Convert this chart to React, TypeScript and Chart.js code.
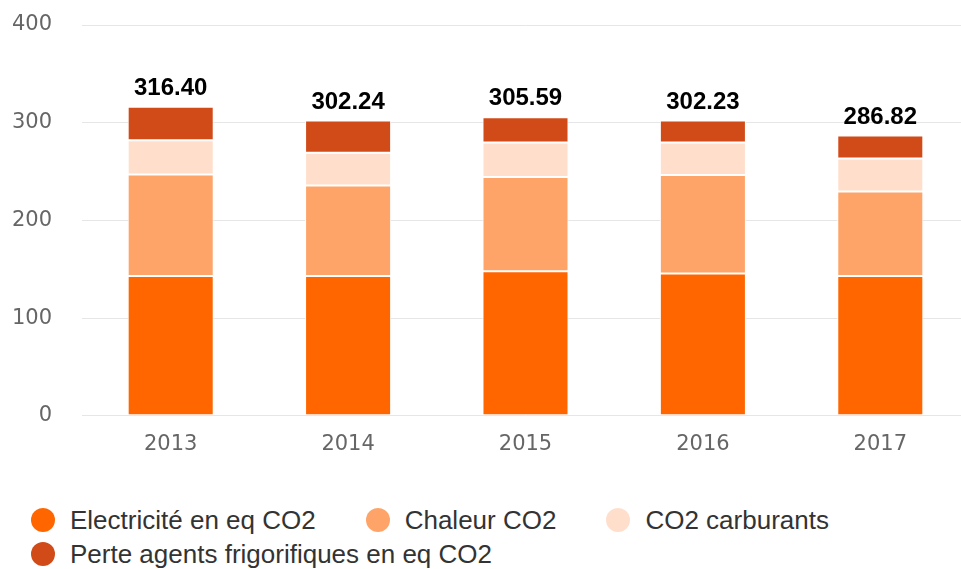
import React, { useEffect, useRef } from "react";
import { Chart, registerables } from "chart.js";

Chart.register(...registerables);

const categories = ["2013", "2014", "2015", "2016", "2017"];
const electricite = [143, 143, 148, 145.6, 143];
const chaleur = [104, 92.6, 96.3, 100.8, 86.7];
const carburants = [35, 33.7, 35.4, 33.3, 33.6];
const frigorifiques = [34.4, 32.94, 25.89, 22.53, 23.52];
const totals = ["316.40", "302.24", "305.59", "302.23", "286.82"];
const yTicks = [0, 100, 200, 300, 400];

const seriesNames = [
  "Electricité en eq CO2",
  "Chaleur CO2",
  "CO2 carburants",
  "Perte agents frigorifiques en eq CO2",
];
const seriesColors = ["#ff6600", "#ffa469", "#ffdfcc", "#d14b18"];
const seriesValues = [electricite, chaleur, carburants, frigorifiques];

const totalsPlugin = {
  id: "totalsPlugin",
  afterDatasetsDraw(chart: any) {
    const ctx = chart.ctx;
    const last = chart.getDatasetMeta(chart.data.datasets.length - 1);
    ctx.save();
    ctx.font = "bold 24px 'Liberation Sans', Arial, sans-serif";
    ctx.fillStyle = "#000000";
    ctx.textAlign = "center";
    ctx.textBaseline = "alphabetic";
    last.data.forEach((el: any, i: number) => {
      ctx.fillText(totals[i], el.x, el.y - 12);
    });
    ctx.restore();
  },
};

export default function App() {
  const canvasRef = useRef<HTMLCanvasElement | null>(null);

  useEffect(() => {
    document.documentElement.style.overflow = "hidden";
    document.body.style.overflow = "hidden";
    if (!canvasRef.current) return;
    const chart = new Chart(canvasRef.current, {
      type: "bar",
      data: {
        labels: categories,
        datasets: seriesValues.map((vals, i) => ({
          label: seriesNames[i],
          data: vals,
          backgroundColor: seriesColors[i],
          borderColor: "#ffffff",
          borderWidth: 1,
          borderSkipped: false,
          barPercentage: 0.485,
          categoryPercentage: 1,
        })),
      },
      options: {
        animation: false,
        responsive: true,
        maintainAspectRatio: false,
        layout: { padding: { top: 25, right: 0, bottom: 0, left: 0 } },
        plugins: {
          legend: { display: false },
          tooltip: { enabled: false },
        },
        scales: {
          x: {
            stacked: true,
            grid: { display: false, drawTicks: false },
            border: { display: false },
            ticks: {
              color: "#666666",
              padding: 16,
              font: { family: "'DejaVu Sans', sans-serif", size: 21 },
            },
          },
          y: {
            stacked: true,
            min: yTicks[0],
            max: yTicks[yTicks.length - 1],
            afterFit(scale: any) {
              scale.width = 82;
              scale.paddingTop = 0;
              scale.paddingBottom = 0;
            },
            afterBuildTicks(scale: any) {
              scale.ticks = yTicks.map((v) => ({ value: v }));
            },
            grid: { color: "#e6e6e6", lineWidth: 1, drawTicks: false },
            border: { display: false },
            ticks: {
              color: "#666666",
              padding: 30,
              font: { family: "'DejaVu Sans', sans-serif", size: 21 },
            },
          },
        },
      },
      plugins: [totalsPlugin],
    });
    return () => chart.destroy();
  }, []);

  return (
    <div>
      <div
        style={{
          position: "absolute",
          left: 0,
          top: 0,
          width: 969,
          height: 473,
        }}
      >
        <canvas ref={canvasRef} />
      </div>
      <div
        style={{
          position: "absolute",
          left: 31,
          top: 503,
          width: 900,
          display: "flex",
          flexWrap: "wrap",
          fontFamily: "'Liberation Sans', Arial, sans-serif",
          fontSize: 26,
          color: "#333333",
        }}
      >
        {seriesNames.map((name, i) => (
          <div
            key={name}
            style={{
              display: "flex",
              alignItems: "center",
              height: 34,
              marginRight: 50,
              whiteSpace: "nowrap",
            }}
          >
            <span
              style={{
                display: "inline-block",
                width: 24,
                height: 24,
                borderRadius: 12,
                background: seriesColors[i],
                marginRight: 15,
              }}
            />
            <span>{name}</span>
          </div>
        ))}
      </div>
    </div>
  );
}
